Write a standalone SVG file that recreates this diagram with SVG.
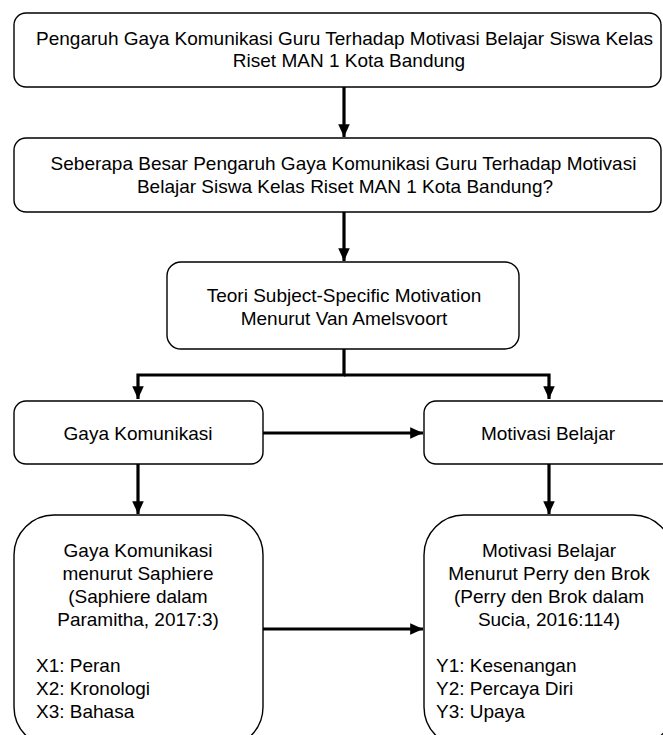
<svg xmlns="http://www.w3.org/2000/svg" width="663" height="735" viewBox="0 0 663 735">
<style>
.box{fill:#fff;stroke:#000;stroke-width:1.4}
text{font-family:"Liberation Sans",Arial,sans-serif;font-size:19px;fill:#000}
.c{text-anchor:middle}
.con{stroke:#000;stroke-width:3.2;fill:none}
</style>
<defs>
<marker id="ah" markerWidth="4" markerHeight="4" refX="4" refY="2" orient="auto" markerUnits="strokeWidth">
<path d="M0,0.2 L4,2 L0,3.8 Z" fill="#000"/>
</marker>
</defs>
<g id="connectors">
<line class="con" x1="344" y1="87" x2="344" y2="137" marker-end="url(#ah)"/>
<line class="con" x1="344" y1="212" x2="344" y2="261" marker-end="url(#ah)"/>
<polyline class="con" points="344,349 344,375 138,375 138,399" marker-end="url(#ah)"/>
<polyline class="con" points="344,375 549,375 549,399" marker-end="url(#ah)"/>
<line class="con" x1="263" y1="433" x2="423" y2="433" marker-end="url(#ah)"/>
<line class="con" x1="138" y1="464" x2="138" y2="514" marker-end="url(#ah)"/>
<line class="con" x1="549" y1="464" x2="549" y2="514" marker-end="url(#ah)"/>
<line class="con" x1="263" y1="629" x2="423" y2="629" marker-end="url(#ah)"/>
</g>
<g id="n1">
<rect class="box" x="14" y="13" width="647" height="74" rx="12"/>
<text class="c" x="344.5" y="45" textLength="617">Pengaruh Gaya Komunikasi Guru Terhadap Motivasi Belajar Siswa Kelas</text>
<text class="c" x="349" y="67">Riset MAN 1 Kota Bandung</text>
</g>
<g id="n2">
<rect class="box" x="14" y="138" width="647" height="74" rx="12"/>
<text class="c" x="343.5" y="170">Seberapa Besar Pengaruh Gaya Komunikasi Guru Terhadap Motivasi</text>
<text class="c" x="345" y="193">Belajar Siswa Kelas Riset MAN 1 Kota Bandung?</text>
</g>
<g id="n3">
<rect class="box" x="167" y="262" width="352" height="87" rx="14"/>
<text class="c" x="344" y="302">Teori Subject-Specific Motivation</text>
<text class="c" x="344" y="325">Menurut Van Amelsvoort</text>
</g>
<g id="n4">
<rect class="box" x="14" y="401" width="249" height="63" rx="12"/>
<text class="c" x="138" y="440">Gaya Komunikasi</text>
</g>
<g id="n5">
<rect class="box" x="424" y="401" width="249" height="63" rx="12"/>
<text class="c" x="548" y="440">Motivasi Belajar</text>
</g>
<g id="n6">
<rect class="box" x="14" y="515" width="249" height="232" rx="40"/>
<text class="c" x="138" y="557">Gaya Komunikasi</text>
<text class="c" x="138" y="580">menurut Saphiere</text>
<text class="c" x="138" y="603">(Saphiere dalam</text>
<text class="c" x="138" y="626">Paramitha, 2017:3)</text>
<text x="36" y="672">X1: Peran</text>
<text x="36" y="695">X2: Kronologi</text>
<text x="36" y="718">X3: Bahasa</text>
</g>
<g id="n7">
<rect class="box" x="424" y="515" width="249" height="232" rx="40"/>
<text class="c" x="549" y="557">Motivasi Belajar</text>
<text class="c" x="549" y="580">Menurut Perry den Brok</text>
<text class="c" x="549" y="603">(Perry den Brok dalam</text>
<text class="c" x="549" y="626">Sucia, 2016:114)</text>
<text x="436" y="672">Y1: Kesenangan</text>
<text x="436" y="695">Y2: Percaya Diri</text>
<text x="436" y="718">Y3: Upaya</text>
</g>
</svg>
